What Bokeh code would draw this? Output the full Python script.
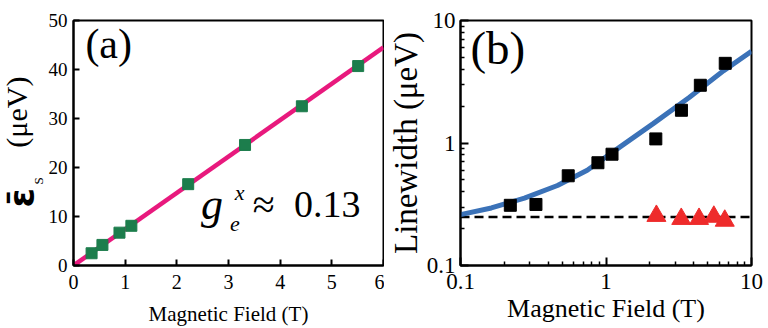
import math
from bokeh.plotting import figure
from bokeh.layouts import row
from bokeh.models import Label, NumeralTickFormatter, FixedTicker
from bokeh.embed import file_html
from bokeh.resources import INLINE

# ---------------- data: panel (a) ----------------
field_a = [0.35, 0.56, 0.89, 1.12, 2.22, 3.32, 4.42, 5.51]
split_a = [2.5, 4.2, 6.7, 8.1, 16.6, 24.6, 32.5, 40.7]
fit_a_x = [0, 6]
fit_a_y = [0, 44.5]
ticks_a_x = [0, 1, 2, 3, 4, 5, 6]
ticks_a_y = [0, 10, 20, 30, 40, 50]

# ---------------- data: panel (b) ----------------
field_b = [0.22, 0.33, 0.55, 0.88, 1.1, 2.2, 3.3, 4.45, 6.6]
width_b = [0.31, 0.315, 0.54, 0.69, 0.81, 1.08, 1.85, 2.96, 4.47]
field_tri = [2.22, 3.29, 4.36, 5.51, 6.55]
width_tri = [0.254, 0.24, 0.24, 0.25, 0.232]
curve_x = [0.1, 0.163, 0.275, 0.464, 0.743, 1.25, 2.11, 3.73, 6.45, 10]
curve_y = [0.26, 0.295, 0.355, 0.45, 0.60, 0.93, 1.44, 2.35, 3.9, 5.6]
floor_b = 0.249
log_major = [0.1, 1, 10]
log_minor = [0.2, 0.3, 0.4, 0.5, 0.6, 0.7, 0.8, 0.9, 2, 3, 4, 5, 6, 7, 8, 9]

SERIF = "Liberation Serif"
INK = "black"
TOP, BOTTOM = 20, 62   # shared frame borders of the row


def style(p):
    p.outline_line_color = INK
    p.outline_line_width = 2
    p.background_fill_color = "white"
    p.border_fill_color = "white"
    p.grid.visible = False
    for ax in (p.xaxis[0], p.yaxis[0]):
        ax.axis_line_width = 2
        ax.axis_line_color = INK
        ax.major_tick_line_width = 2
        ax.major_tick_line_color = INK
        ax.minor_tick_line_width = 1.5
        ax.minor_tick_line_color = INK
        ax.major_tick_out = 0
        ax.minor_tick_out = 0
        ax.major_label_text_font = SERIF
        ax.major_label_text_color = INK
        ax.axis_label_text_font = SERIF
        ax.axis_label_text_font_style = "normal"
        ax.axis_label_text_color = INK


def lab(x, y, text, size, font=SERIF, style_="normal", align="left", angle=0.0):
    return Label(x=x, y=y, text=text, text_font=font, text_font_size=size,
                 text_font_style=style_, text_color=INK, text_align=align,
                 text_baseline="alphabetic", angle=angle)


# ---------------- y title of panel (a): its own narrow strip ----------------
strip = figure(width=45, height=328, x_range=(0, 45), y_range=(328 - BOTTOM, TOP),
               output_backend="svg", toolbar_location=None, title=None,
               x_axis_location=None, y_axis_location=None,
               min_border_left=0, min_border_right=0, min_border_top=TOP, min_border_bottom=BOTTOM)
strip.grid.visible = False
strip.outline_line_color = None
strip.add_layout(lab(21, 198, "ε\u0304", "35px", font="DejaVu Sans", style_="bold",
                     align="center", angle=math.pi / 2))
strip.add_layout(lab(38, 181, "S", "13px", align="center", angle=math.pi / 2))
strip.add_layout(lab(16, 112, "(μeV)", "30px", align="center", angle=math.pi / 2))

# ---------------- panel (a) ----------------
p1 = figure(width=339, height=328, x_range=(0, 6), y_range=(0, 50),
            output_backend="svg", toolbar_location=None,
            min_border_left=25, min_border_right=1, min_border_top=TOP, min_border_bottom=BOTTOM)
style(p1)
p1.xaxis.ticker = FixedTicker(ticks=ticks_a_x)
p1.yaxis.ticker = FixedTicker(ticks=ticks_a_y)
for ax in (p1.xaxis[0], p1.yaxis[0]):
    ax.major_tick_in = 6
    ax.minor_tick_line_color = None
    ax.major_label_text_font_size = "19px"
p1.xaxis.major_label_text_font_size = "20px"
p1.xaxis.major_label_standoff = 9
p1.yaxis.major_label_standoff = 6
p1.xaxis.axis_label = "Magnetic Field (T)"
p1.xaxis.axis_label_text_font_size = "21px"
p1.xaxis.axis_label_standoff = 10

p1.line(fit_a_x, fit_a_y, line_color="#e8197d", line_width=4.5)
p1.scatter(field_a, split_a, marker="square", size=11, fill_color="#1c7d4c", line_color="#1c7d4c")

p1.add_layout(lab(0.23, 45.3, "(a)", "42px"))
p1.add_layout(lab(2.47, 12.4, "g", "44px", style_="italic"))
p1.add_layout(lab(3.12, 14.8, "x", "22px", style_="italic"))
p1.add_layout(lab(3.03, 8.5, "e", "22px", style_="italic"))
p1.add_layout(lab(3.68, 12.4, "≈", "40px", align="center"))
p1.add_layout(lab(4.91, 12.4, "0.13", "38px", align="center"))

# ---------------- panel (b) ----------------
p2 = figure(width=384, height=328, x_range=(0.1, 10), y_range=(0.1, 10),
            x_axis_type="log", y_axis_type="log",
            output_backend="svg", toolbar_location=None,
            min_border_left=73, min_border_right=17, min_border_top=TOP, min_border_bottom=BOTTOM)
style(p2)
for ax in (p2.xaxis[0], p2.yaxis[0]):
    ax.ticker = FixedTicker(ticks=log_major, minor_ticks=log_minor)
    ax.major_tick_in = 8
    ax.minor_tick_in = 4
    ax.formatter = NumeralTickFormatter(format="0.[0]")
    ax.major_label_text_font_size = "23px"
p2.xaxis.major_label_standoff = 8
p2.yaxis.major_label_standoff = 5
p2.xaxis.axis_label = "Magnetic Field (T)"
p2.xaxis.axis_label_text_font_size = "26px"
p2.xaxis.axis_label_standoff = 2
p2.yaxis.axis_label = "Linewidth (μeV)"
p2.yaxis.axis_label_text_font_size = "33px"
p2.yaxis.axis_label_standoff = 0

p2.line([log_major[0], log_major[-1]], [floor_b, floor_b], line_color=INK, line_width=2.5, line_dash="9 5")
p2.line(curve_x, curve_y, line_color="#3b72b8", line_width=5)
p2.scatter(field_b, width_b, marker="square", size=12, fill_color=INK, line_color=INK)
p2.scatter(field_tri, width_tri, marker="triangle", size=19, fill_color="#ee2b2b", line_color="#ee2b2b")
p2.add_layout(lab(0.117, 5.94, "(b)", "47px"))

layout = row(strip, p1, p2)
open("out.html", "w").write(file_html(layout, INLINE))
